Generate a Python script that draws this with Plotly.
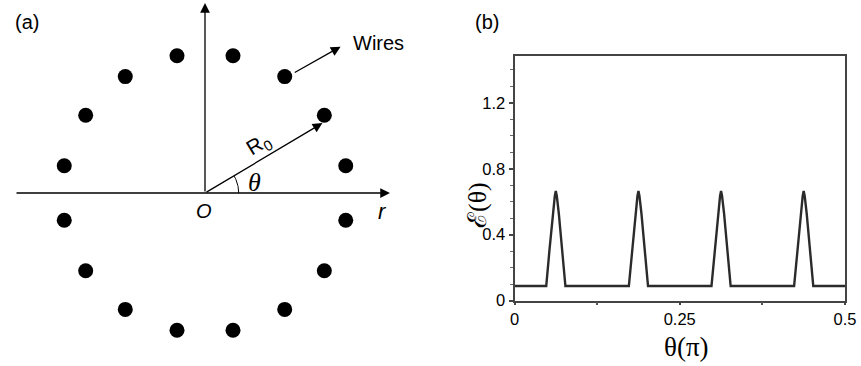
import numpy as np
import plotly.graph_objects as go

# ---------------- data ----------------
# panel (a): wire angular positions (degrees), radius R0 = 1
wire_angles_deg = [11.25, 33.75, 56.25, 78.75, 101.25, 123.75, 146.25, 168.75,
                   191.25, 213.75, 236.25, 258.75, 281.25, 303.75, 326.25, 348.75]
wire_radius = [1.0] * 16
theta_marker_deg = 30.0  # angle of the R0 arrow

# panel (b): epsilon(theta), theta in units of pi
theta_pi = [0.0,
            0.048, 0.053, 0.058, 0.061, 0.0625, 0.064, 0.067, 0.072, 0.077,
            0.173, 0.178, 0.183, 0.186, 0.1875, 0.189, 0.192, 0.197, 0.202,
            0.298, 0.303, 0.308, 0.311, 0.3125, 0.314, 0.317, 0.322, 0.327,
            0.423, 0.428, 0.433, 0.436, 0.4375, 0.439, 0.442, 0.447, 0.452,
            0.5]
eps = [0.088,
       0.088, 0.31, 0.53, 0.635, 0.665, 0.635, 0.53, 0.31, 0.088,
       0.088, 0.31, 0.53, 0.635, 0.665, 0.635, 0.53, 0.31, 0.088,
       0.088, 0.31, 0.53, 0.635, 0.665, 0.635, 0.53, 0.31, 0.088,
       0.088, 0.31, 0.53, 0.635, 0.665, 0.635, 0.53, 0.31, 0.088,
       0.088]
x_tickvals = [0, 0.25, 0.5]
x_ticktext = ["0", "0.25", "0.5"]
y_tickvals = [0, 0.4, 0.8, 1.2]
y_ticktext = ["0", "0.4", "0.8", "1.2"]

W, H = 861, 366
SANS = "Arial, Liberation Sans, sans-serif"
SERIF = "Times New Roman, Liberation Serif, DejaVu Serif, serif"

fig = go.Figure()

# ---------------- panel (a) ----------------
ang = np.deg2rad(np.array(wire_angles_deg))
r = np.array(wire_radius)
fig.add_trace(go.Scatter(x=r * np.cos(ang), y=r * np.sin(ang), mode="markers",
                         marker=dict(size=15, color="#000000"),
                         xaxis="x", yaxis="y", showlegend=False, hoverinfo="skip"))
sx, sy = 143.5, 140.0
ox, oy = 205.0, 193.0
# theta arc
arc_t = np.deg2rad(np.linspace(0, theta_marker_deg, 30))
arc_r = 0.235
fig.add_trace(go.Scatter(x=arc_r * np.cos(arc_t), y=arc_r * np.sin(arc_t) * sx / sy,
                         mode="lines", line=dict(color="#000", width=1),
                         xaxis="x", yaxis="y", showlegend=False, hoverinfo="skip"))

# ---------------- panel (b) ----------------
fig.add_trace(go.Scatter(x=theta_pi, y=eps, mode="lines",
                         line=dict(color="#2b2b2b", width=2.4),
                         xaxis="x2", yaxis="y2", showlegend=False, hoverinfo="skip"))

xr = [-ox / sx, (W / 2 - ox) / sx]
yr = [-(H - oy) / sy, oy / sy]

def arrow(x0, y0, x1, y1):
    return dict(x=x1, y=y1, ax=x0, ay=y0, xref="x", yref="y", axref="x", ayref="y",
                text="", showarrow=True, arrowhead=2, arrowsize=1.5, arrowwidth=1.3,
                arrowcolor="#000", standoff=0, startstandoff=0)

def label(x, y, text, size, family=SANS, ref="x", angle=0):
    return dict(x=x, y=y, xref=ref if ref == "paper" else "x",
                yref=ref if ref == "paper" else "y", text=text, showarrow=False,
                xanchor="center", yanchor="middle", textangle=angle,
                font=dict(family=family, size=size, color="#000"))

cos_t = np.cos(np.deg2rad(31.0)); sin_t = np.sin(np.deg2rad(31.0))
annotations = [
    arrow(-1.324, 0, 1.289, 0),
    arrow(0, 0, 0, 1.357),
    arrow(0, 0, 0.955 * cos_t, 0.955 * sin_t * sx / sy * 0.99),
    arrow(0.615, 0.855, 0.945, 1.045),
    label(1.206, 1.069, "Wires", 20),
    label(-0.007, -0.128, "<i>O</i>", 20),
    label(1.238, -0.134, "<i>r</i>", 22),
    label(0.345, 0.078, "<i>θ</i>", 26, family=SERIF),
    label(0.372, 0.345, "R<sub>0</sub>", 21, angle=-31),
    label(26.7 / W, 1 - 21.7 / H, "(a)", 20, ref="paper"),
    label(486.7 / W, 1 - 21.7 / H, "(b)", 20, ref="paper"),
    label(478 / W, 1 - 205 / H, "ℰ(θ)", 26, family=SERIF, ref="paper", angle=-90),
    label(686 / W, 1 - 346.5 / H, "θ(π)", 27, family=SERIF, ref="paper"),
]

bx0, bx1 = 514.5, 845.0
by0, by1 = 56.0, 300.5

fig.update_layout(
    template="none",
    width=W, height=H, autosize=False,
    margin=dict(l=0, r=0, t=0, b=0, pad=0, autoexpand=False),
    paper_bgcolor="white", plot_bgcolor="white",
    xaxis=dict(domain=[0, 0.5], range=xr, visible=False, fixedrange=True, automargin=False),
    yaxis=dict(domain=[0, 1], range=yr, visible=False, fixedrange=True, automargin=False),
    xaxis2=dict(domain=[bx0 / W, bx1 / W], range=[0, 0.5], anchor="y2", automargin=False,
                tickvals=x_tickvals, ticktext=x_ticktext, ticks="outside", ticklen=3,
                tickcolor="#444", tickwidth=1.5,
                minor=dict(dtick=0.125, ticks="outside", ticklen=3, tickcolor="#555", tickwidth=1.5),
                showline=True, linecolor="#444", linewidth=1.8, mirror=True,
                showgrid=False, zeroline=False,
                tickfont=dict(family=SANS, size=16.5, color="#000")),
    yaxis2=dict(domain=[1 - by1 / H, 1 - by0 / H], range=[0, 1.485], anchor="x2", automargin=False,
                tickvals=y_tickvals, ticktext=y_ticktext, ticks="outside", ticklen=4,
                tickcolor="#444", tickwidth=1.5,
                minor=dict(dtick=0.1, ticks="outside", ticklen=3, tickcolor="#666", tickwidth=1.3),
                showline=True, linecolor="#444", linewidth=1.8, mirror=True,
                showgrid=False, zeroline=False,
                tickfont=dict(family=SANS, size=16.5, color="#000")),
    annotations=annotations,
)

fig.write_html("out.html")
